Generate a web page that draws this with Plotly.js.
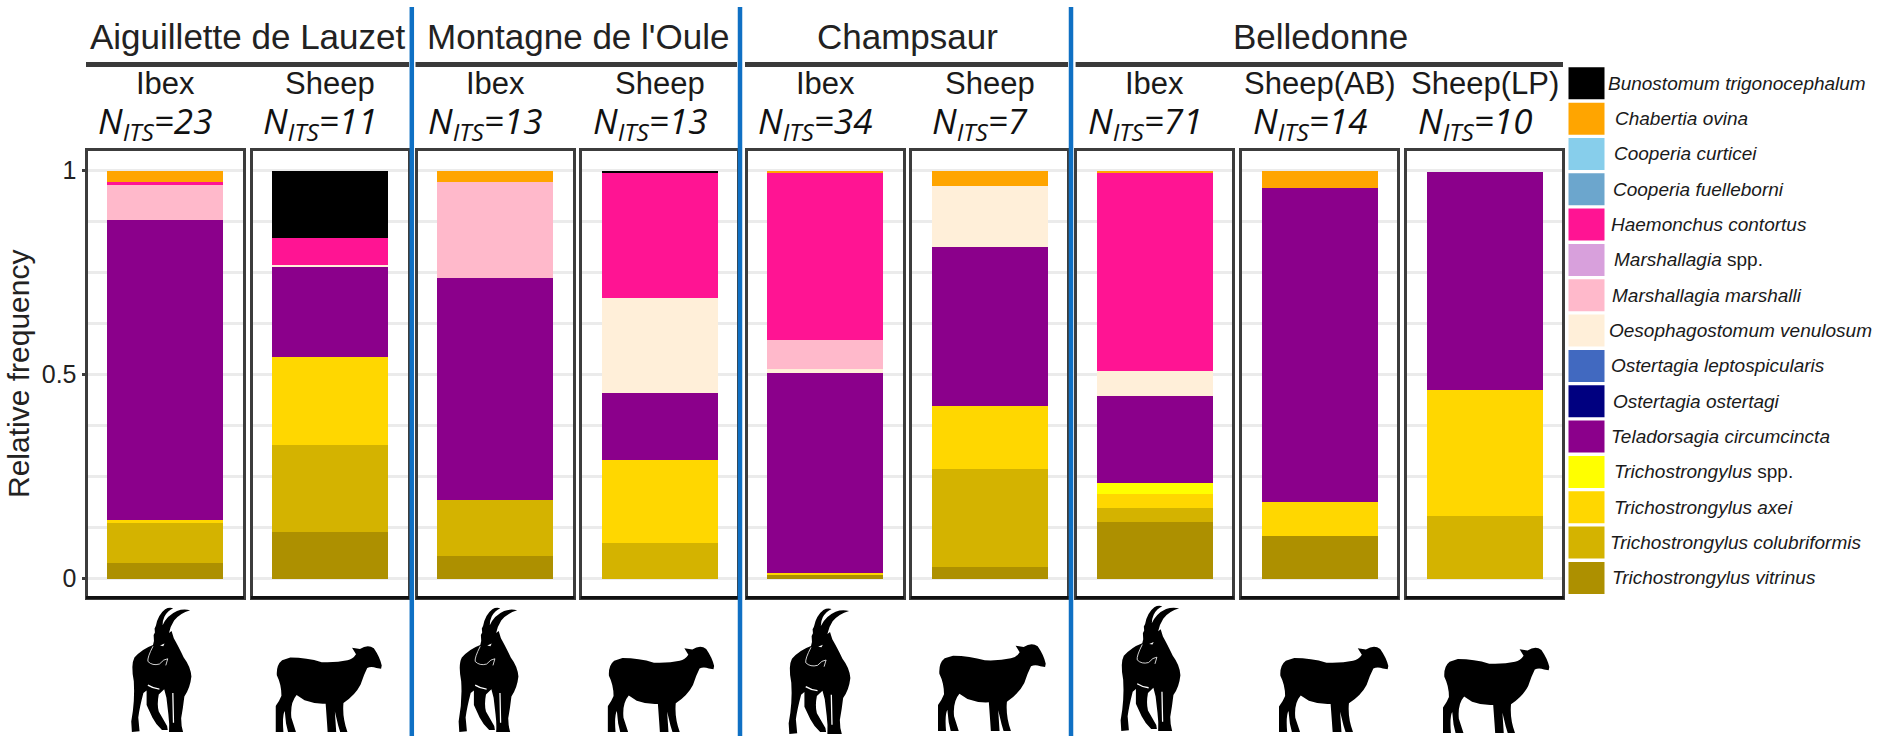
<!DOCTYPE html>
<html><head><meta charset="utf-8">
<script src="https://cdn.plot.ly/plotly-3.0.1.min.js"></script>
<style>html,body{margin:0;padding:0;background:#fff}#chart{width:1889px;height:736px}</style>
</head><body><div id="chart"></div>
<script>
// ---------- data ----------
const regions = ["Aiguillette de Lauzet","Montagne de l'Oule","Champsaur","Belledonne"];
const hosts = ["Ibex","Sheep","Ibex","Sheep","Ibex","Sheep","Ibex","Sheep(AB)","Sheep(LP)"];
const nITS = [23,11,13,13,34,7,71,14,10];
const speciesLabels = ["<i>Bunostomum trigonocephalum</i>","<i>Chabertia ovina</i>","<i>Cooperia curticei</i>","<i>Cooperia fuelleborni</i>","<i>Haemonchus contortus</i>","<i>Marshallagia</i> spp.","<i>Marshallagia marshalli</i>","<i>Oesophagostomum venulosum</i>","<i>Ostertagia leptospicularis</i>","<i>Ostertagia ostertagi</i>","<i>Teladorsagia circumcincta</i>","<i>Trichostrongylus</i> spp.","<i>Trichostrongylus axei</i>","<i>Trichostrongylus colubriformis</i>","<i>Trichostrongylus vitrinus</i>"];
const speciesColors = ["#000000","#FFA500","#87CEEB","#6CA6CD","#FF1493","#D8A0DC","#FFB9CB","#FFEFD9","#4169C0","#000080","#8B008B","#FFFF00","#FFD700","#D4B300","#AD9000"];
const bunostomum  = [0,0.163,0,0.005,0,0,0,0,0];
const chabertia   = [0.028,0,0.028,0,0.0025,0.036,0.005,0.042,0];
const curticei    = [0,0,0,0,0,0,0,0,0];
const fuelleborni = [0,0,0,0,0,0,0,0,0];
const haemonchus  = [0.008,0.067,0,0.3055,0.413,0,0.484,0,0];
const marshSpp    = [0,0,0,0,0,0,0,0,0];
const marshalli   = [0.084,0,0.236,0,0.071,0,0,0,0];
const oesophago   = [0,0.003,0,0.235,0.010,0.150,0.063,0,0];
const leptospic   = [0,0,0,0,0,0,0,0,0];
const ostertagi   = [0,0,0,0,0,0,0,0,0];
const teladorsagia= [0.736,0.222,0.544,0.164,0.490,0.389,0.213,0.770,0.534];
const trichoSpp   = [0,0,0,0,0,0,0.026,0,0];
const axei        = [0.004,0.2165,0,0.203,0.0025,0.154,0.034,0.083,0.308];
const colubri     = [0.102,0.212,0.136,0.087,0,0.241,0.035,0,0.154];
const vitrinus    = [0.038,0.115,0.056,0,0.0106,0.029,0.139,0.105,0];
const seriesValues = [bunostomum,chabertia,curticei,fuelleborni,haemonchus,marshSpp,marshalli,oesophago,leptospic,ostertagi,teladorsagia,trichoSpp,axei,colubri,vitrinus];
const yTickVals = [0,0.5,1];
const yTickText = ["0","0.5","1"];

// ---------- layout geometry (pixels) ----------
const W=1889,H=736, FONT='"Liberation Sans",Arial,sans-serif';
const px=x=>x/W, py=y=>1-y/H;
const centers=[165,330,495.3,659.7,825,989.7,1154.7,1319.7,1484.7], halfW=77.5;
const panelTop=150.5,panelBot=597,y1Px=170.7,y0Px=578.7,unit=y0Px-y1Px;
const yRange=[-(panelBot-y0Px)/unit,1+(y1Px-panelTop)/unit];
const regionX=[247,578,907,1320];
const ruleX=[[86,409],[415.5,737],[745,1068],[1075.6,1563]];
const dividers=[411.8,740,1071];
const legendTextX=[1606,1613,1612,1611,1609.4,1612,1610,1607,1609,1611,1609,1612,1612,1608,1610];

const traces=[];
const layout={width:W,height:H,margin:{l:0,r:0,t:0,b:0},barmode:'stack',showlegend:false,
  paper_bgcolor:'#fff',plot_bgcolor:'#fff',font:{family:FONT,color:'#1a1a1a'},annotations:[],shapes:[],images:[]};

centers.forEach((c,p)=>{
  const n=p===0?'':String(p+1);
  layout['xaxis'+n]={domain:[px(c-halfW),px(c+halfW)],range:[-0.6,0.6],anchor:'y'+n,showgrid:false,zeroline:false,
    showticklabels:false,ticks:'',showline:true,mirror:true,linecolor:'#3c3c3c',linewidth:3,fixedrange:true};
  layout['yaxis'+n]={domain:[py(panelBot),py(panelTop)],range:yRange,anchor:'x'+n,zeroline:false,showline:true,mirror:true,
    linecolor:'#3c3c3c',linewidth:3,tickmode:'array',tickvals:yTickVals,ticktext:yTickText,
    ticks:p===0?'outside':'',ticklen:3,tickwidth:3,tickcolor:'#3c3c3c',showticklabels:p===0,
    tickfont:{size:25,color:'#222',family:FONT},showgrid:true,gridcolor:'#ebebeb',gridwidth:2.5,
    minor:{dtick:0.125,showgrid:true,gridcolor:'#ebebeb',gridwidth:2.5,ticks:''},fixedrange:true};
  for(let s=seriesValues.length-1;s>=0;s--){
    if(seriesValues[s][p]>0) traces.push({type:'bar',x:[0],y:[seriesValues[s][p]],width:0.9,xaxis:'x'+n,yaxis:'y'+n,
      name:speciesLabels[s],marker:{color:speciesColors[s],line:{width:0}}});
  }
  layout.annotations.push({xref:'paper',yref:'paper',x:px(c),y:py(83),text:hosts[p],showarrow:false,xanchor:'center',yanchor:'middle',
    font:{size:31,color:'#1a1a1a',family:FONT}});
  layout.annotations.push({xref:'paper',yref:'paper',x:px(c-10),y:py(122),text:'<i>N<sub>ITS</sub>='+nITS[p]+'</i>',showarrow:false,xanchor:'center',yanchor:'middle',
    font:{size:35,color:'#111',family:'"Open Sans",sans-serif'}});
  layout.shapes.push({type:'line',xref:'paper',yref:'paper',x0:px(c-halfW-1.5),x1:px(c+halfW+1.5),y0:py(597.5),y1:py(597.5),line:{color:'#111',width:3}});
});
layout.yaxis.title={text:'Relative frequency',font:{size:30,color:'#222',family:FONT},standoff:4};

regions.forEach((r,i)=>{
  layout.annotations.push({xref:'paper',yref:'paper',x:px(regionX[i]),y:py(36),text:r,showarrow:false,xanchor:'center',yanchor:'middle',
    font:{size:35,color:'#222',family:FONT}});
  layout.shapes.push({type:'line',xref:'paper',yref:'paper',x0:px(ruleX[i][0]),x1:px(ruleX[i][1]),y0:py(64.5),y1:py(64.5),line:{color:'#3a3a3a',width:5}});
});
dividers.forEach(x=>layout.shapes.push({type:'line',xref:'paper',yref:'paper',x0:px(x),x1:px(x),y0:py(7),y1:py(736),line:{color:'#0F70C4',width:4.5}}));

speciesLabels.forEach((t,i)=>{
  const top=67.3+i*35.33;
  layout.shapes.push({type:'rect',xref:'paper',yref:'paper',x0:px(1568.5),x1:px(1604.5),y0:py(top),y1:py(top+32),fillcolor:speciesColors[i],line:{width:0}});
  layout.annotations.push({xref:'paper',yref:'paper',x:px(legendTextX[i]),y:py(top+16),text:t,showarrow:false,xanchor:'left',yanchor:'middle',
    font:{size:19,color:'#1a1a1a',family:FONT}});
});

// silhouettes (decoration)
const ibexSvg=`<svg xmlns="http://www.w3.org/2000/svg" viewBox="60 12 195 385" preserveAspectRatio="none"><path fill="#000" d="M133 118 L132 100 L136 92 L135 80 L139 72 Q146 38 168 22 Q180 15 193 19 Q176 26 166 44 Q160 56 160 70 Q174 40 205 27 Q225 20 246 25 Q214 34 196 56 Q184 74 180 94 L188 88 L195 110 Q208 132 226 168 Q248 196 250 226 Q246 262 228 286 Q224 320 218 352 Q218 376 224 394 L180 394 Q182 370 178 340 L172 290 L165 264 L148 280 Q142 310 148 332 L174 376 L176 388 L158 388 Q138 370 128 350 L110 312 L110 268 L100 276 Q88 320 84 350 L88 392 L64 394 L62 362 Q74 300 70 240 Q60 190 72 168 Q96 142 130 130 Z"/><path fill="none" stroke="#fff" stroke-width="2.5" d="M130 134 Q112 168 114 180 Q128 194 150 188 Q164 172 176 172 L170 192"/><path fill="none" stroke="#fff" stroke-width="4" d="M192 276 L194 366 M114 252 Q130 262 150 264"/><path fill="#fff" d="M152 132 L166 126 L162 134 Z"/></svg>`;
const sheepSvg=`<svg xmlns="http://www.w3.org/2000/svg" viewBox="30 30 324 267" preserveAspectRatio="none"><path fill="#000" d="M75 68 Q125 68 170 82 Q215 84 248 76 Q264 74 274 58 L262 38 L286 42 Q310 26 328 40 Q346 66 352 92 L350 102 L336 100 Q320 94 308 100 Q298 120 288 150 Q272 182 236 206 Q232 250 248 294 L226 294 L220 274 L210 232 L214 294 L188 294 L186 264 L182 208 Q150 210 118 198 L94 182 Q74 205 78 250 L92 294 L68 294 L62 268 L58 230 Q50 244 54 294 L30 294 L30 216 Q42 200 48 184 Q48 150 34 122 Q32 90 50 76 Z"/></svg>`;
const toUri=s=>'data:image/svg+xml;charset=utf-8,'+encodeURIComponent(s);
const ibexBoxes=[[130.6,193,606,733],[458,520,606,733],[788,852,606.7,735],[1120,1182,604,732]];
const sheepBoxes=[[275.5,382.4,645,733],[607.6,714.8,645.7,733],[938,1046.4,643,732],[1279,1389,645.7,733],[1443,1550,646.7,734]];
const addImg=(src,b)=>layout.images.push({source:toUri(src),xref:'paper',yref:'paper',x:px(b[0]),y:py(b[2]),sizex:(b[1]-b[0])/W,sizey:(b[3]-b[2])/H,xanchor:'left',yanchor:'top',sizing:'stretch',layer:'above'});
ibexBoxes.forEach(b=>addImg(ibexSvg,b));
sheepBoxes.forEach(b=>addImg(sheepSvg,b));

Plotly.newPlot('chart',traces,layout,{displayModeBar:false,responsive:false});
</script></body></html>
